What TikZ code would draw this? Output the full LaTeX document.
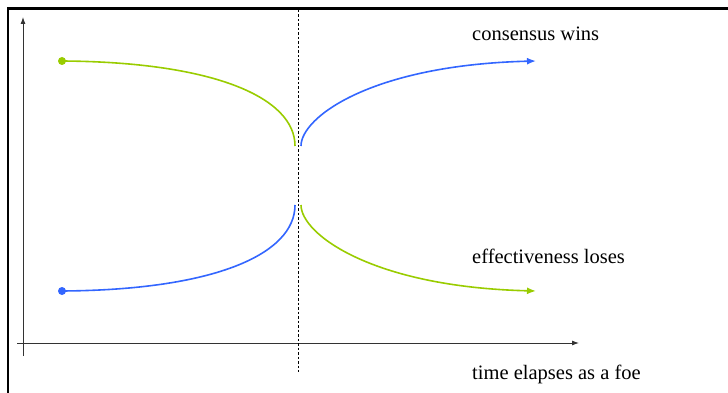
\documentclass[tikz,border=0pt]{standalone}
\usepackage{fontspec}
\setmainfont{Liberation Serif}
\usetikzlibrary{arrows.meta}
\definecolor{lime}{HTML}{99CC00}
\definecolor{azure}{HTML}{3366FF}

\begin{document}
\begin{tikzpicture}[x=1pt, y=-1pt,
	path/.style={line width=1.6pt},
	tip/.style={-{Latex[length=9pt, width=7pt]}},
	dot/.style={circle, fill=#1, inner sep=0pt, minimum size=8pt},
	lbl/.style={anchor=base west, inner sep=0pt, font=\fontsize{20.5}{24}\selectfont}]
	
	\useasboundingbox (0,0) rectangle (728,393);
	
	% Cadre
	\draw[line width=2.2pt] (8,393) -- (8,8.5) -- (728,8.5);
	
	% Axes
	\coordinate (o) at (23,343);
	\coordinate (ytop) at (23,17);
	\coordinate (xend) at (579,343);
	\draw[-{Latex[length=7pt, width=5pt]}, line width=0.9pt, black!80]
	(23,356) -- (ytop);
	\draw[-{Latex[length=7pt, width=5pt]}, line width=0.9pt, black!80]
	(17,343) -- (xend);
	
	% Ligne du milieu
	\draw[dashed, dash pattern=on 2.5pt off 2pt, line width=0.9pt]
	(298,10) -- (298,372);
	
	% Points de depart
	\node[dot=lime] (gstart) at (62,61) {};
	\node[dot=azure] (bstart) at (62,291) {};
	\coordinate (gmid) at (295,146);
	\coordinate (bmid) at (295,205);
	\coordinate (bfrom) at (301,146);
	\coordinate (gfrom) at (301,205);
	\coordinate (bend) at (536,61);
	\coordinate (gend) at (536,291);
	
	% Courbes gauches
	\draw[path, lime] (gstart.center)
	.. controls (215,62) and (295,98) .. (gmid);
	\draw[path, azure] (bstart.center)
	.. controls (215,290) and (295,254) .. (bmid);
	
	% Courbes droites
	\draw[path, tip, azure] (bfrom)
	.. controls (301,117) and (372,65) .. (bend);
	\draw[path, tip, lime] (gfrom)
	.. controls (301,234) and (372,287) .. (gend);
	
	% Etiquettes
	\node[lbl] (wins) at (472,41) {consensus wins};
	\node[lbl] (loses) at (472,263) {effectiveness loses};
	\node[lbl] (time) at (472,379) {time elapses as a foe};
	
\end{tikzpicture}
\end{document}
